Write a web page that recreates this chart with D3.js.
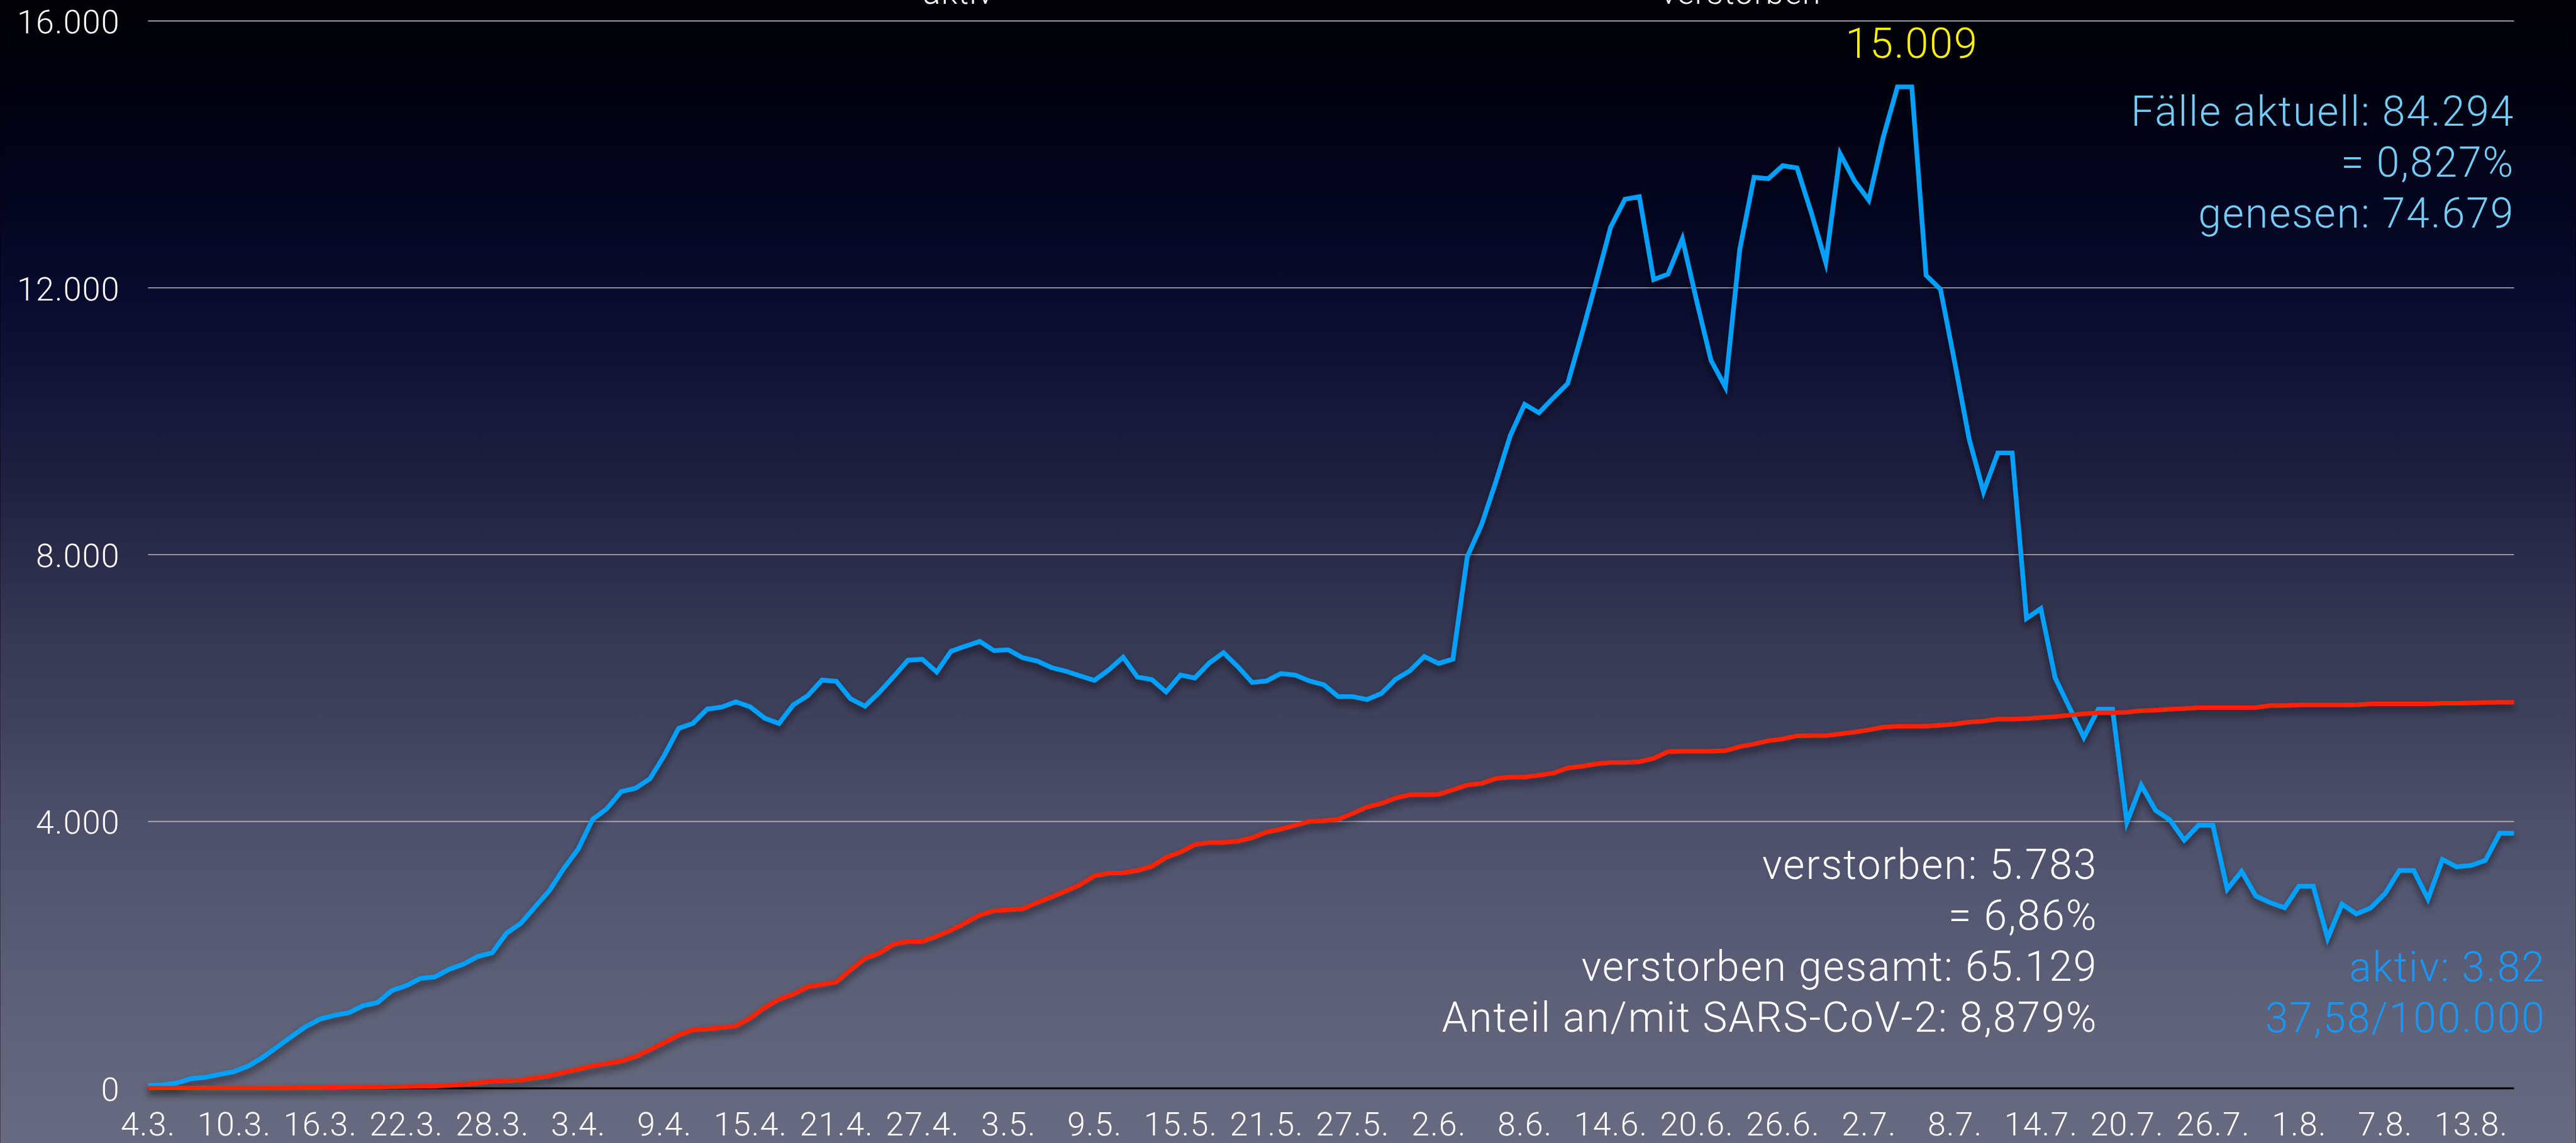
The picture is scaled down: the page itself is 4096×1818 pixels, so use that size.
<!DOCTYPE html>
<html lang="de">
<head>
<meta charset="utf-8">
<title>aktiv / verstorben</title>
<script src="https://cdn.jsdelivr.net/npm/d3@7"></script>
<style>
  html, body { margin: 0; padding: 0; background: #000; overflow: hidden; }
  svg { display: block; }
  text { font-family: "Roboto", "Liberation Sans", sans-serif; font-weight: 300; }
</style>
</head>
<body>
<svg id="chart" width="4096" height="1818" viewBox="0 0 4967 2205"></svg>
<script>
// Active cases per day, from 4.3. to 16.8.
const aktiv = [
  40, 47, 76, 140, 162, 204, 247, 332, 460, 617,
  771, 920, 1035, 1090, 1129, 1235, 1282, 1461, 1534, 1644,
  1666, 1781, 1858, 1973, 2028, 2322, 2471, 2719, 2962, 3294,
  3584, 4027, 4189, 4445, 4496, 4637, 4986, 5391, 5468, 5681,
  5711, 5790, 5715, 5545, 5465, 5746, 5880, 6116, 6098, 5835,
  5724, 5933, 6170, 6415, 6429, 6237, 6549, 6625, 6696, 6558,
  6571, 6451, 6402, 6304, 6250, 6179, 6112, 6268, 6460, 6161,
  6125, 5938, 6192, 6147, 6371, 6527, 6317, 6081, 6103, 6214,
  6192, 6103, 6045, 5870, 5869, 5824, 5914, 6127, 6256, 6469,
  6366, 6430, 7964, 8447, 9091, 9780, 10251, 10122, 10347, 10560,
  11314, 12100, 12905, 13324, 13363, 12119, 12203, 12731, 11797, 10908,
  10509, 12570, 13653, 13633, 13827, 13794, 13118, 12377, 14007, 13601,
  13311, 14248, 15009, 15009, 12184, 11975, 10873, 9729, 8938, 9521,
  9521, 7040, 7187, 6148, 5702, 5256, 5679, 5679, 3984, 4542,
  4163, 4020, 3717, 3940, 3940, 2981, 3249, 2878, 2780, 2704,
  3026, 3026, 2245, 2758, 2611, 2700, 2914, 3262, 3262, 2834,
  3427, 3316, 3338, 3414, 3820, 3820
];

// Deaths, cumulative
const verstorben = [
  0, 0, 0, 0, 0, 1, 1, 1, 2, 3,
  5, 7, 8, 10, 12, 14, 16, 19, 22, 26,
  30, 38, 55, 76, 102, 110, 119, 153, 183, 234,
  281, 332, 366, 404, 473, 575, 681, 792, 873, 886,
  907, 930, 1050, 1206, 1331, 1407, 1518, 1554, 1589, 1772,
  1942, 2022, 2156, 2196, 2196, 2276, 2365, 2477, 2593, 2660,
  2673, 2687, 2780, 2865, 2954, 3048, 3182, 3222, 3226, 3262,
  3324, 3458, 3538, 3650, 3681, 3681, 3703, 3752, 3837, 3882,
  3940, 3998, 4007, 4030, 4116, 4212, 4266, 4348, 4397, 4397,
  4403, 4471, 4544, 4566, 4642, 4661, 4661, 4689, 4721, 4798,
  4825, 4860, 4880, 4880, 4893, 4942, 5043, 5051, 5051, 5051,
  5057, 5117, 5158, 5207, 5234, 5280, 5283, 5283, 5310, 5335,
  5370, 5411, 5422, 5422, 5425, 5440, 5456, 5487, 5501, 5532,
  5532, 5537, 5554, 5568, 5590, 5612, 5626, 5626, 5635, 5657,
  5666, 5679, 5688, 5702, 5702, 5702, 5702, 5706, 5733, 5737,
  5742, 5742, 5742, 5742, 5746, 5760, 5760, 5760, 5760, 5760,
  5768, 5768, 5773, 5780, 5783, 5783
];

const xTickLabels = [
  "4.3.", "10.3.", "16.3.", "22.3.", "28.3.", "3.4.", "9.4.", "15.4.", "21.4.", "27.4.",
  "3.5.", "9.5.", "15.5.", "21.5.", "27.5.", "2.6.", "8.6.", "14.6.", "20.6.", "26.6.",
  "2.7.", "8.7.", "14.7.", "20.7.", "26.7.", "1.8.", "7.8.", "13.8."
];
const yTicks = [0, 4000, 8000, 12000, 16000];
const yTickLabels = ["0", "4.000", "8.000", "12.000", "16.000"];

const legendLabels = ["aktiv", "verstorben"];
const peakLabel = "15.009";
const infoTopRight = ["Fälle aktuell: 84.294", "= 0,827%", "genesen: 74.679"];
const infoDeaths = ["verstorben: 5.783", "= 6,86%", "verstorben gesamt: 65.129", "Anteil an/mit SARS-CoV-2: 8,879%"];
const infoActive = ["aktiv: 3.82", "37,58/100.000"];

const W = 4967, H = 2205;
const plot = { left: 285, right: 4848, top: 40, bottom: 2099 };

const svg = d3.select("#chart");
const defs = svg.append("defs");

// background gradient, black at the top fading into slate grey
const grad = defs.append("linearGradient")
  .attr("id", "bg").attr("x1", 0).attr("y1", 0).attr("x2", 0).attr("y2", 1);
[
  [0.00, "#020206"], [0.09, "#010211"], [0.18, "#03051f"], [0.27, "#0a0c30"],
  [0.385, "#1a1b3c"], [0.485, "#2a2b49"], [0.567, "#373955"], [0.635, "#3f415d"],
  [0.718, "#4d4f6b"], [0.816, "#575a73"], [0.93, "#62657a"], [1.00, "#686b80"]
].forEach(([o, c]) => grad.append("stop").attr("offset", o).attr("stop-color", c));

const shadow = defs.append("filter").attr("id", "shadow")
  .attr("x", "-5%").attr("y", "-5%").attr("width", "110%").attr("height", "115%");
shadow.append("feDropShadow")
  .attr("dx", 0).attr("dy", 9).attr("stdDeviation", 7)
  .attr("flood-color", "#000").attr("flood-opacity", 0.55);

svg.append("rect").attr("width", W).attr("height", H).attr("fill", "url(#bg)");

const startDate = new Date(2020, 2, 4);
const days = d3.timeDay.range(startDate, d3.timeDay.offset(startDate, aktiv.length));

const x = d3.scaleTime()
  .domain([days[0], days[days.length - 1]])
  .range([plot.left, plot.right]);
const y = d3.scaleLinear().domain([0, 16000]).range([plot.bottom, plot.top]);

// y axis with full-width gridlines
const yAxis = d3.axisLeft(y)
  .tickValues(yTicks)
  .tickSize(-(plot.right - plot.left))
  .tickPadding(54)
  .tickFormat((d, i) => yTickLabels[i]);

const gy = svg.append("g")
  .attr("transform", `translate(${plot.left},0)`)
  .call(yAxis);
gy.select(".domain").remove();
gy.selectAll(".tick line")
  .attr("stroke", d => d === 0 ? "#000" : "#b4b4bc")
  .attr("stroke-width", d => d === 0 ? 3.5 : 2);
gy.selectAll(".tick text")
  .attr("fill", "#fff")
  .attr("font-size", 63)
  .attr("letter-spacing", 1.5)
  .attr("dy", "0.38em");

// x axis labels, every sixth day
const xAxis = d3.axisBottom(x)
  .tickValues(xTickLabels.map((_, k) => days[k * 6]))
  .tickSize(0)
  .tickFormat((d, i) => xTickLabels[i]);

const gx = svg.append("g")
  .attr("transform", `translate(0,${plot.bottom})`)
  .call(xAxis);
gx.select(".domain").remove();
gx.selectAll(".tick text")
  .attr("fill", "#fff")
  .attr("font-size", 63)
  .attr("letter-spacing", 1.5)
  .attr("y", 92)
  .attr("dy", 0);

// legend (sits at the very top edge)
const legendX = [1848, 3357];
svg.append("g").selectAll("text")
  .data(legendLabels)
  .join("text")
  .attr("x", (d, i) => legendX[i])
  .attr("y", 7)
  .attr("text-anchor", "middle")
  .attr("font-size", 63)
  .attr("letter-spacing", 1.5)
  .attr("fill", "#fff")
  .text(d => d);

// series
const line = d3.line()
  .x((d, i) => x(days[i]))
  .y(d => y(d));

const lines = svg.append("g").attr("filter", "url(#shadow)");
lines.append("path")
  .datum(aktiv)
  .attr("d", line)
  .attr("fill", "none")
  .attr("stroke", "#05a0fb")
  .attr("stroke-width", 9)
  .attr("stroke-linejoin", "miter")
  .attr("stroke-miterlimit", 10);
lines.append("path")
  .datum(verstorben)
  .attr("d", line)
  .attr("fill", "none")
  .attr("stroke", "#ff2400")
  .attr("stroke-width", 8.5)
  .attr("stroke-linejoin", "miter")
  .attr("stroke-miterlimit", 10);

// peak value label
const peakIndex = aktiv.lastIndexOf(d3.max(aktiv));
svg.append("text")
  .attr("x", x(days[peakIndex]))
  .attr("y", y(d3.max(aktiv)) - 56)
  .attr("text-anchor", "middle")
  .attr("font-size", 81)
  .attr("letter-spacing", 2)
  .attr("fill", "#fbf200")
  .text(peakLabel);

// text blocks
function block(lines, xr, y0, color) {
  svg.append("g").selectAll("text")
    .data(lines)
    .join("text")
    .attr("x", xr)
    .attr("y", (d, i) => y0 + i * 98.5)
    .attr("text-anchor", "end")
    .attr("font-size", 80)
    .attr("letter-spacing", 2.4)
    .attr("fill", color)
    .text(d => d);
}
block(infoTopRight, 4849, 242, "#72cdf7");
block(infoDeaths, 4045, 1695, "#ffffff");
block(infoActive, 4909, 1893, "#1898f6");
</script>
</body>
</html>
